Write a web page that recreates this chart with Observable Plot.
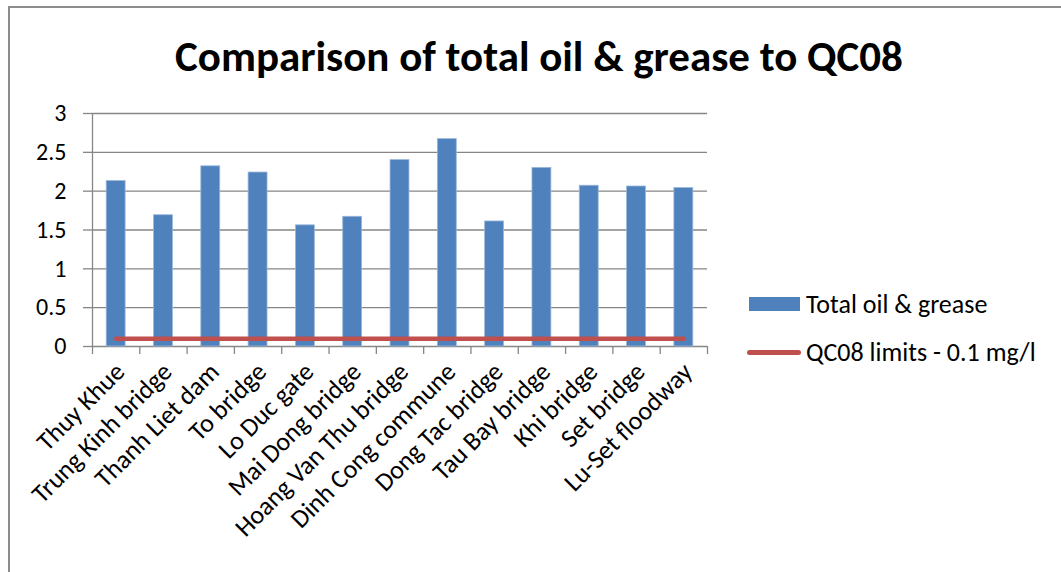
<!DOCTYPE html>
<html>
<head>
<meta charset="utf-8">
<script src="https://cdn.jsdelivr.net/npm/d3@7"></script>
<script src="https://cdn.jsdelivr.net/npm/@observablehq/plot@0.6"></script>
<style>
  html, body { margin: 0; padding: 0; background: #fff; overflow: hidden; }
  #chart { position: relative; width: 1061px; height: 572px; overflow: hidden;
           font-family: Carlito, Lato, "Open Sans", sans-serif; color: #000; }
  #frame { position: absolute; left: 8px; top: 6px; width: 1100px; height: 700px;
           border: 2px solid #8c8c8c; box-sizing: border-box; }
  #title { position: absolute; left: 0; top: 31px; width: 1078px; text-align: center;
           font-weight: bold; font-size: 43px; line-height: 52px; white-space: nowrap; }
  #plot { position: absolute; left: 0; top: 0; }
  .legend-item { position: absolute; left: 747px; display: flex; align-items: center;
                 font-size: 26px; white-space: nowrap; }
  .swatch-bar { width: 51px; height: 14px; background: #4F81BD; margin-left: 2px; margin-right: 6px; }
  .swatch-line { width: 54px; height: 5px; border-radius: 3px; background: #C0504D; margin-right: 5px; }
</style>
</head>
<body>
<div id="chart">
  <div id="frame"></div>
  <div id="title">Comparison of total oil &amp; grease to QC08</div>
  <div id="plot"></div>
  <div class="legend-item" style="top:288px;height:32px"><div class="swatch-bar"></div><span>Total oil &amp; grease</span></div>
  <div class="legend-item" style="top:336px;height:32px"><div class="swatch-line"></div><span>QC08 limits - 0.1 mg/l</span></div>
</div>
<script>
// Sampling sites along the river
const sites = [
  "Thuy Khue", "Trung Kinh bridge", "Thanh Liet dam", "To bridge", "Lo Duc gate",
  "Mai Dong bridge", "Hoang Van Thu bridge", "Dinh Cong commune", "Dong Tac bridge",
  "Tau Bay bridge", "Khi bridge", "Set bridge", "Lu-Set floodway"
];
// Total oil & grease measured at each site (mg/l)
const oilGrease = [2.13, 1.69, 2.32, 2.24, 1.56, 1.67, 2.40, 2.67, 1.61, 2.30, 2.07, 2.06, 2.04];
// QC08 regulatory limit (mg/l)
const qc08Limit = 0.1;
// Value axis ticks
const yTicks = [0, 0.5, 1, 1.5, 2, 2.5, 3];

const rows = sites.map((site, i) => ({site, i, value: oilGrease[i], limit: qc08Limit}));
const boundaries = d3.range(sites.length + 1).map(k => k - 0.5);
const grid = "#868686";
const font = 'Carlito, Lato, "Open Sans", sans-serif';

const chart = Plot.plot({
  width: 1061,
  height: 572,
  marginTop: 113,
  marginBottom: 226,
  marginLeft: 92,
  marginRight: 354,
  x: {type: "linear", domain: [-0.5, sites.length - 0.5], axis: null, label: null},
  y: {domain: [0, 3], axis: null, label: null},
  style: {fontFamily: font, fontSize: "20px", background: "transparent", color: "#000", overflow: "visible"},
  marks: [
    Plot.ruleY(yTicks, {stroke: grid, strokeWidth: 1.3}),
    Plot.ruleX([-0.5], {y1: 0, y2: 3, stroke: grid, strokeWidth: 1.3}),
    Plot.axisY({ticks: yTicks, tickSize: 9, tickPadding: 17, tickFormat: d => String(d), label: null,
                stroke: grid, strokeWidth: 1.3, fill: "#000", fontSize: 24}),
    Plot.axisX({ticks: boundaries, tickSize: 8, tickFormat: () => "", label: null,
                stroke: grid, strokeWidth: 1.3}),
    Plot.axisX({ticks: d3.range(sites.length), tickSize: 0, tickPadding: 21, dx: 4, tickRotate: -45, label: null,
                tickFormat: k => sites[k], fill: "#000", fontSize: 26}),
    Plot.rect(rows, {x1: d => d.i - 0.2, x2: d => d.i + 0.2, y1: 0, y2: "value",
                     fill: "#4F81BD", stroke: "#9BB7DC", strokeWidth: 0.8}),
    Plot.line(rows, {x: "i", y: "limit", stroke: "#C0504D", strokeWidth: 4.5, strokeLinecap: "round"})
  ]
});
document.getElementById("plot").appendChild(chart);
</script>
</body>
</html>
